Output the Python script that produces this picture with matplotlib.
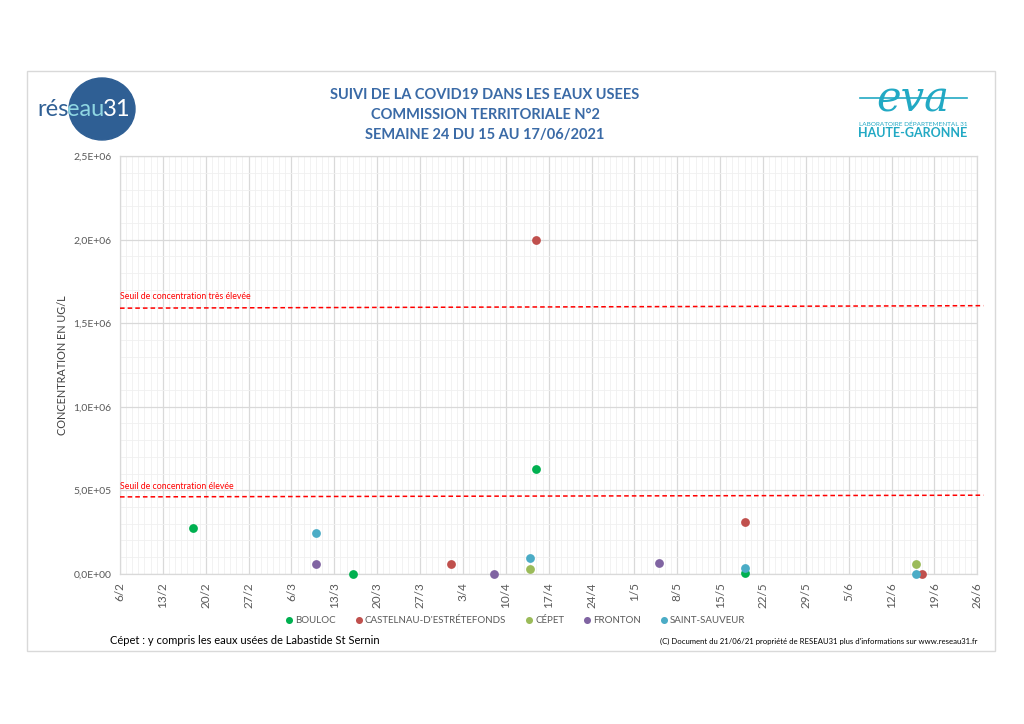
import datetime as dt
import matplotlib
matplotlib.use("Agg")
from matplotlib import pyplot as plt
from matplotlib.patches import Ellipse, Rectangle
from matplotlib.ticker import MultipleLocator, FuncFormatter

plt.rcParams['font.family'] = ['Lato', 'DejaVu Sans']

# data
bouloc_dates = ["2021-02-18", "2021-03-16", "2021-04-15", "2021-05-19"]
bouloc_vals = [2.73e5, 0, 6.25e5, 5e3]

castelnau_dates = ["2021-04-01", "2021-04-15", "2021-05-19", "2021-06-17"]
castelnau_vals = [5.6e4, 2.0e6, 3.09e5, 0]

cepet_dates = ["2021-04-14", "2021-06-16"]
cepet_vals = [2.8e4, 5.6e4]

fronton_dates = ["2021-03-10", "2021-04-08", "2021-05-05"]
fronton_vals = [6.0e4, 0, 6.6e4]

sauveur_dates = ["2021-03-10", "2021-04-14", "2021-05-19", "2021-06-16"]
sauveur_vals = [2.43e5, 9.6e4, 3.6e4, 0]

series_names = ["BOULOC", "CASTELNAU-D'ESTRÉTEFONDS", "CÉPET", "FRONTON", "SAINT-SAUVEUR"]
series_colors = ["#00b050", "#c0504d", "#9bbb59", "#8064a2", "#4bacc6"]

# threshold lines (left value, right value)
seuil_tres_eleve = [1.59e6, 1.605e6]
seuil_eleve = [4.6e5, 4.7e5]

x_start = dt.date(2021, 2, 6)
x_end = dt.date(2021, 6, 26)


def to_dates(lst):
    return [dt.datetime.strptime(s, "%Y-%m-%d").date() for s in lst]


W, H = 1024, 724
fig = plt.figure(figsize=(W/100, H/100), dpi=100)

# outer frame
fig.add_artist(Rectangle((27/W, 1-651/H), 968/W, 580/H, transform=fig.transFigure,
                         fill=False, edgecolor="#d9d9d9", linewidth=1))

ax = fig.add_axes([120/W, 1-573.7/H, 857.3/W, 417.5/H])

all_dates = [bouloc_dates, castelnau_dates, cepet_dates, fronton_dates, sauveur_dates]
all_vals = [bouloc_vals, castelnau_vals, cepet_vals, fronton_vals, sauveur_vals]
for d, v, name, c in zip(all_dates, all_vals, series_names, series_colors):
    ax.scatter(to_dates(d), v, s=40, color=c, label=name, zorder=5, clip_on=False,
               linewidths=0)

# threshold lines
xl = [x_start - dt.timedelta(days=0.8), x_end + dt.timedelta(days=1.2)]
ax.plot(xl, seuil_tres_eleve, color="#ff0000", linestyle=(0, (3, 2)), linewidth=1.1,
        clip_on=False, zorder=4)
ax.plot(xl, seuil_eleve, color="#ff0000", linestyle=(0, (3, 2)), linewidth=1.1,
        clip_on=False, zorder=4)
ax.text(x_start - dt.timedelta(days=0.6), 1.635e6, "Seuil de concentration très élevée",
        color="#ff0000", fontsize=6.3, va="bottom", ha="left")
ax.text(x_start, 4.98e5, "Seuil de concentration élevée",
        color="#ff0000", fontsize=6.3, va="bottom", ha="left")

ax.set_xlim(x_start, x_end)
ax.set_ylim(0, 2.5e6)

ticks = [x_start + dt.timedelta(days=7*i) for i in range(21)]
ax.set_xticks(ticks)
ax.set_xticklabels([f"{t.day}/{t.month}" for t in ticks], rotation=90)
ax.set_xticks([x_start + dt.timedelta(days=i) for i in range(141)], minor=True)

ax.yaxis.set_major_locator(MultipleLocator(5e5))
ax.yaxis.set_minor_locator(MultipleLocator(1e5))
ax.yaxis.set_major_formatter(FuncFormatter(
    lambda v, p: ("%.1E" % v).replace(".", ",")))

ax.grid(True, which="major", color="#d9d9d9", linewidth=0.9)
ax.grid(True, which="minor", color="#f0f0f0", linewidth=0.6)
ax.set_axisbelow(True)
for sp in ax.spines.values():
    sp.set_color("#d9d9d9")
    sp.set_linewidth(0.9)
ax.tick_params(which="both", length=0, labelsize=7.5, colors="#595959")
ax.tick_params(axis="x", pad=6, labelsize=8.5)
ax.tick_params(axis="y", pad=6)

ax.set_ylabel("CONCENTRATION EN UG/L", fontsize=7.8, color="#404040", labelpad=4)

leg = ax.legend(loc="center", bbox_to_anchor=(0.46, -0.113), ncol=5, frameon=False,
                fontsize=7.0, handletextpad=0.0, columnspacing=1.8, handlelength=1.2,
                markerscale=0.8, scatteryoffsets=[0.5])
for t in leg.get_texts():
    t.set_color("#595959")

# title
title_color = "#3a6aa6"
fig.text(485/W, 1-95/H, "SUIVI DE LA COVID19 DANS LES EAUX USEES", ha="center", va="center",
         fontsize=10.5, fontweight="bold", color=title_color)
fig.text(485/W, 1-115/H, "COMMISSION TERRITORIALE N°2", ha="center", va="center",
         fontsize=10.5, fontweight="bold", color=title_color)
fig.text(485/W, 1-135/H, "SEMAINE 24 DU 15 AU 17/06/2021", ha="center", va="center",
         fontsize=10.5, fontweight="bold", color=title_color)

# réseau31 logo
fig.add_artist(Ellipse((102/W, 1-109/H), 66/W, 62/H, transform=fig.transFigure,
                       color="#2f5f94", zorder=1))
fig.text(37/W, 1-110/H, "rés", fontsize=17, color="#2f5f94", va="center", ha="left")
fig.text(67/W, 1-110/H, "eau", fontsize=17, color="#8fd6e2", va="center", ha="left")
fig.text(103/W, 1-110/H, "31", fontsize=17, color="white", va="center", ha="left")

# EVA logo
eva_color = "#22a9c4"
fig.add_artist(plt.Line2D([860/W, 967/W], [1-98/H, 1-98/H], color=eva_color,
                          linewidth=1.2, transform=fig.transFigure))
fig.text(913/W, 1-100/H, "eva", fontsize=30, color=eva_color, style="italic",
         ha="center", va="center", family="DejaVu Serif")
fig.text(913/W, 1-124/H, "LABORATOIRE DÉPARTEMENTAL 31", fontsize=4.6, color=eva_color,
         ha="center", va="center")
fig.text(913/W, 1-133/H, "HAUTE-GARONNE", fontsize=9, color=eva_color, fontweight="bold",
         ha="center", va="center")

# footers
fig.text(110/W, 1-641/H, "Cépet : y compris les eaux usées de Labastide St Sernin",
         fontsize=8, color="#000000", ha="left", va="center")
fig.text(977/W, 1-641/H,
         "(C) Document du 21/06/21 propriété de RESEAU31 plus d'informations sur www.reseau31.fr",
         fontsize=5.6, color="#000000", ha="right", va="center")

fig.savefig("out.png", dpi=100)
